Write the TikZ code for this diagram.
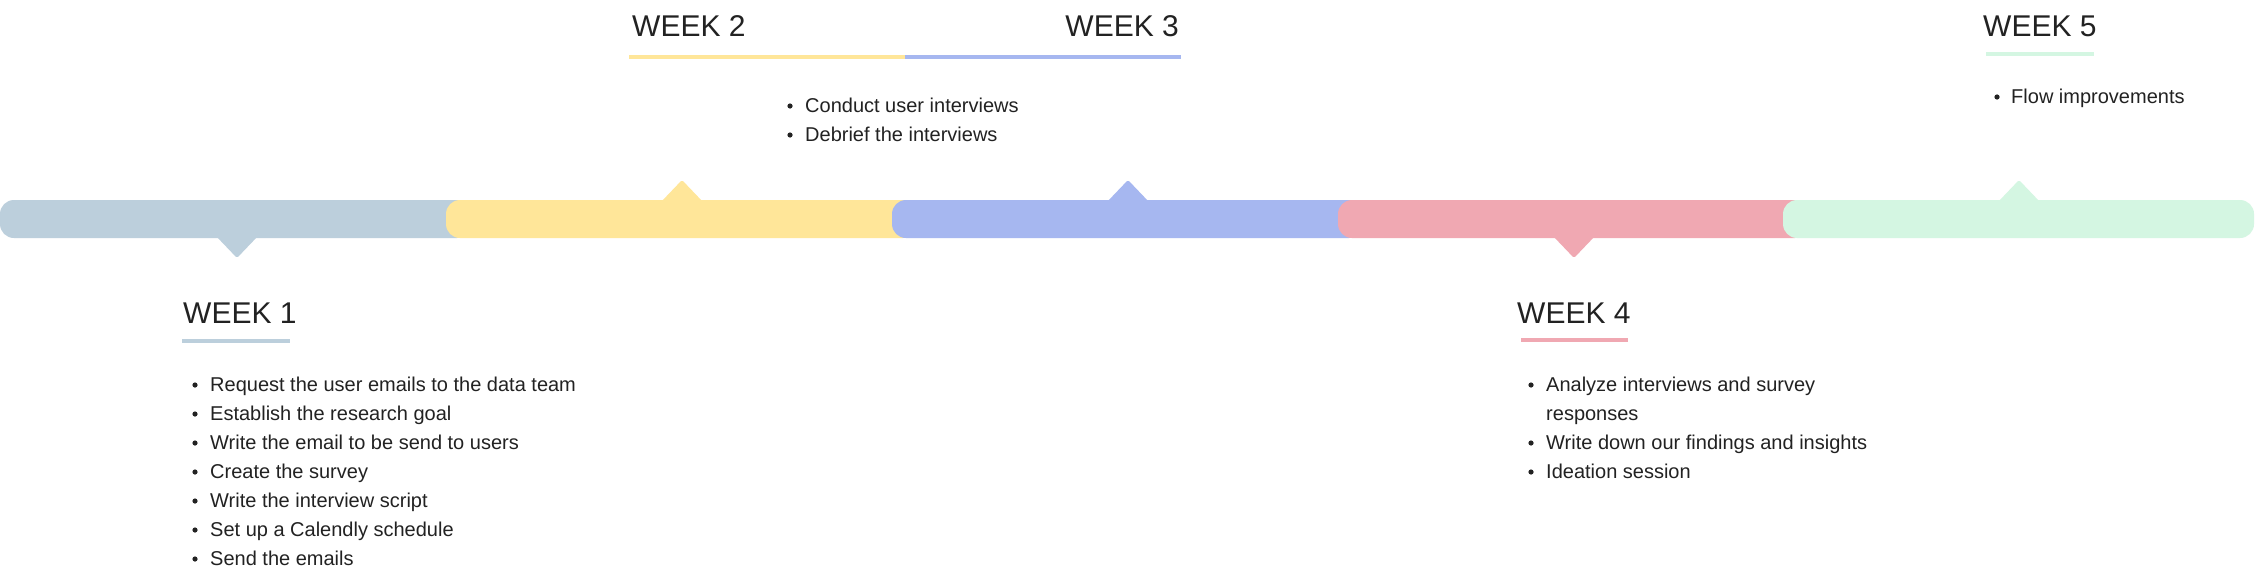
\documentclass[tikz,border=0pt]{standalone}
\usepackage{fontspec}
\setmainfont{Liberation Sans}
\definecolor{wkA}{HTML}{BCCFDC}
\definecolor{wkB}{HTML}{FFE699}
\definecolor{wkC}{HTML}{A6B7F0}
\definecolor{wkD}{HTML}{F0A8B2}
\definecolor{wkE}{HTML}{D4F6E2}
\definecolor{ink}{HTML}{222222}
\begin{document}
\begin{tikzpicture}[x=1pt,y=-1pt,
  title/.style={inner sep=0pt, font=\fontsize{30}{36}\selectfont, text=ink},
  item/.style={anchor=base west, inner sep=0pt, font=\fontsize{20}{24}\selectfont, text=ink},
  segbar/.style={rounded corners=14pt},
  tick/.style={rounded corners=1.5pt},
  uline/.style={line width=3.5pt},
  dot/.style={fill=ink}]
\useasboundingbox[fill=white] (0,0) rectangle (2256,573);

% timeline segments
\fill[wkA, segbar] (0,200) rectangle (471,238);
\fill[wkA, tick] (216,236) -- (237,258) -- (258,236) -- cycle;
\fill[wkB, segbar] (446,200) rectangle (917,238);
\fill[wkB, tick] (661,202) -- (682,180) -- (703,202) -- cycle;
\fill[wkC, segbar] (892,200) rectangle (1363,238);
\fill[wkC, tick] (1107,202) -- (1128,180) -- (1149,202) -- cycle;
\fill[wkD, segbar] (1338,200) rectangle (1809,238);
\fill[wkD, tick] (1553,236) -- (1574,258) -- (1595,236) -- cycle;
\fill[wkE, segbar] (1783,200) rectangle (2254,238);
\fill[wkE, tick] (1998,202) -- (2019,180) -- (2040,202) -- cycle;

% titles
\node[title, anchor=base west] (w1) at (183,323) {WEEK 1};
\node[title, anchor=base west] (w2) at (632,36) {WEEK 2};
\node[title, anchor=base east] (w3) at (1179,36) {WEEK 3};
\node[title, anchor=base west] (w4) at (1517,323) {WEEK 4};
\node[title, anchor=base west] (w5) at (1983,36) {WEEK 5};

% underlines
\draw[wkA, uline] (182,341) -- (290,341);
\draw[wkB, uline] (629,57) -- (905,57);
\draw[wkC, uline] (905,57) -- (1181,57);
\draw[wkD, uline] (1521,340) -- (1628,340);
\draw[wkE, uline] (1986,54) -- (2094,54);

% week 1 list
\foreach \t [count=\i from 0] in {Request the user emails to the data team,
  Establish the research goal, Write the email to be send to users,
  Create the survey, Write the interview script,
  Set up a Calendly schedule, Send the emails} {
  \node[item] (a\i) at (210,391+29*\i) {\t};
  \fill[dot] (195,385+29*\i) circle (2.6pt);
}

% week 2/3 list
\foreach \t [count=\i from 0] in {Conduct user interviews, Debrief the interviews} {
  \node[item] (b\i) at (805,112+29*\i) {\t};
  \fill[dot] (790,106+29*\i) circle (2.6pt);
}

% week 4 list
\node[item] (d0) at (1546,391) {Analyze interviews and survey};
\node[item] (d1) at (1546,420) {responses};
\node[item] (d2) at (1546,449) {Write down our findings and insights};
\node[item] (d3) at (1546,478) {Ideation session};
\fill[dot] (1531,385) circle (2.6pt);
\fill[dot] (1531,443) circle (2.6pt);
\fill[dot] (1531,472) circle (2.6pt);

% week 5 list
\node[item] (e0) at (2011,103) {Flow improvements};
\fill[dot] (1997,97) circle (2.6pt);
\end{tikzpicture}
\end{document}
